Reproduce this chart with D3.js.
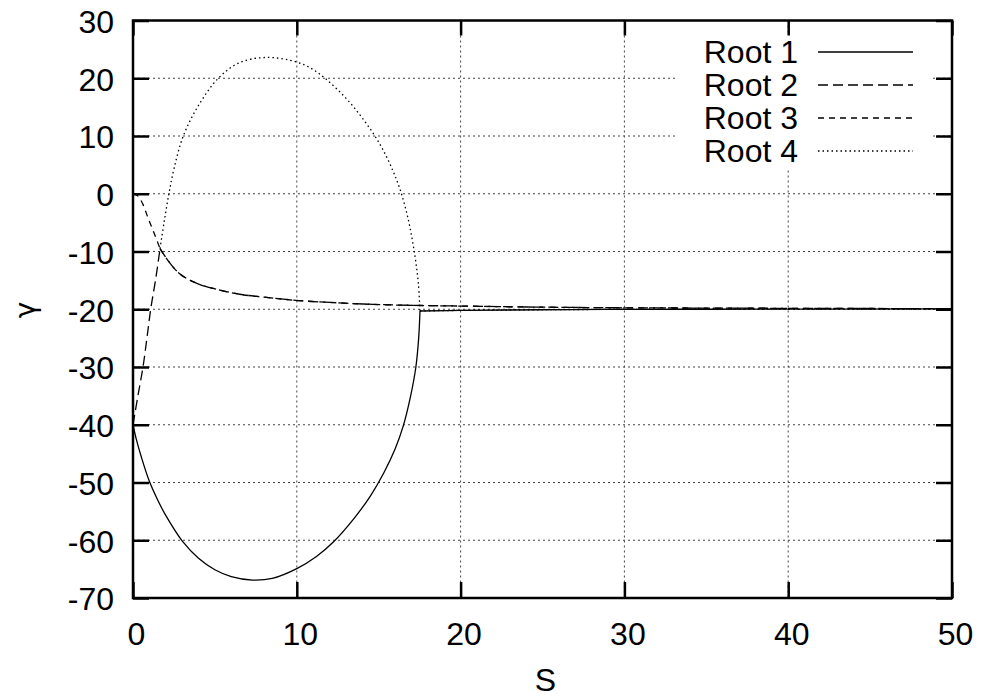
<!DOCTYPE html>
<html>
<head>
<meta charset="utf-8">
<script src="https://cdn.jsdelivr.net/npm/d3@7"></script>
<style>
  body { margin: 0; background: #fff; }
  svg { display: block; font-family: "Liberation Sans", Arial, Helvetica, sans-serif; }
</style>
</head>
<body>
<div id="chart"></div>
<script>
// tick values
var xTicks = [0, 10, 20, 30, 40, 50];
var yTicks = [-70, -60, -50, -40, -30, -20, -10, 0, 10, 20, 30];

// curve pieces (S, gamma)
var lowerS = [0, 0.2, 0.5, 1.0, 1.5, 2.0, 3.0, 4.0, 5.0, 6.0, 7.3, 8.5, 10, 11.2, 12.23, 13.5, 14.5, 15.3, 16.0, 16.5, 16.95, 17.27, 17.44, 17.52];
var lowerG = [-40, -42.5, -45.5, -49.8, -53, -55.7, -60.1, -63.1, -65.1, -66.3, -66.9, -66.6, -64.9, -62.8, -60.3, -56.2, -52.3, -48.4, -44.2, -40.2, -35, -30, -25, -20.3];

var tailS = [17.52, 20, 27, 35, 50];
var tailG = [-20.3, -20.2, -20.05, -20.0, -19.95];

var riseS = [0, 0.3, 0.61, 0.85, 1.08, 1.4, 1.65];
var riseG = [-40, -35, -30, -25, -20, -14.5, -9.5];

var fallS = [0, 0.3, 0.6, 0.92, 1.3, 1.65];
var fallG = [0, -0.4, -1.8, -4.2, -6.9, -9.5];

var flatS = [1.65, 2.2, 2.87, 3.8, 4.9, 6.5, 8, 10.1, 12.6, 15.1, 20, 27.3, 35, 50];
var flatG = [-9.5, -11.8, -13.9, -15.4, -16.4, -17.4, -17.9, -18.5, -18.9, -19.2, -19.45, -19.7, -19.8, -19.9];

var upperS = [1.65, 1.9, 2.18, 2.5, 3.07, 4.0, 5.21, 6.5, 8.16, 10, 11, 11.72, 12.5, 13.3, 14.0, 14.7, 15.3, 15.85, 16.3, 16.7, 17.0, 17.25, 17.42, 17.52];
var upperG = [-9.5, -4.9, -0.2, 4.3, 10, 15.3, 20, 22.7, 23.6, 22.8, 21.5, 20, 18, 15.6, 13.1, 10.3, 7.4, 4.1, 0.8, -3.2, -7.2, -11.5, -15.5, -20.3];

var rootNames = ["Root 1", "Root 2", "Root 3", "Root 4"];
var rootDash = [null, "10,5", "6,5", "1.5,3"];

function pts(s, g) { return s.map(function(v, i) { return [v, g[i]]; }); }

function makeChart() {

  // each root is drawn as one or more smooth pieces
  var roots = [
    [pts(lowerS, lowerG), pts(tailS, tailG)],
    [pts(riseS, riseG), pts(flatS, flatG)],
    [pts(fallS, fallG), pts(flatS, flatG)],
    [pts(upperS, upperG), pts(tailS, tailG)]
  ];

  var width = 984, height = 698;
  var m = {left: 133, right: 952, top: 20.5, bottom: 598};
  var fs = "32px";

  var svg = d3.select("#chart").append("svg")
      .attr("width", width)
      .attr("height", height);

  var x = d3.scaleLinear().domain([0, 50]).range([m.left, m.right]);
  var y = d3.scaleLinear().domain([-70, 30]).range([m.bottom, m.top]);

  // grid
  var grid = svg.append("g").attr("class", "grid")
      .attr("stroke", "#444").attr("stroke-width", 1).attr("stroke-dasharray", "2,3");
  grid.selectAll(".gx").data(xTicks.slice(1, -1)).enter().append("line")
      .attr("x1", function(d) { return x(d); }).attr("x2", function(d) { return x(d); })
      .attr("y1", m.top).attr("y2", m.bottom);
  grid.selectAll(".gy").data(yTicks.slice(1, -1)).enter().append("line")
      .attr("y1", function(d) { return y(d); }).attr("y2", function(d) { return y(d); })
      .attr("x1", m.left).attr("x2", m.right);

  // legend background covers the grid
  svg.append("rect")
      .attr("x", 677).attr("y", 35).attr("width", 256).attr("height", 133)
      .attr("fill", "#fff");

  // curves
  var line = d3.line()
      .x(function(d) { return x(d[0]); })
      .y(function(d) { return y(d[1]); })
      .curve(d3.curveCatmullRom.alpha(0.5));

  roots.forEach(function(pieces, i) {
    svg.append("g").attr("class", "root" + (i + 1))
      .selectAll("path")
        .data(pieces)
      .enter().append("path")
        .attr("d", line)
        .attr("fill", "none")
        .attr("stroke", "#000")
        .attr("stroke-width", 1.3)
        .attr("stroke-dasharray", rootDash[i]);
  });

  // axes, ticks pointing inward
  function styleAxis(g) {
    g.select(".domain").remove();
    g.selectAll(".tick line").attr("stroke", "#000").attr("stroke-width", 2.5);
    g.selectAll("text").attr("fill", "#000").style("font-size", fs)
      .style("font-family", "'Liberation Sans', Arial, Helvetica, sans-serif");
  }

  var plain = function(d) { return String(d); };

  svg.append("g")
      .attr("transform", "translate(0," + m.bottom + ")")
      .call(d3.axisBottom(x).tickValues(xTicks).tickSize(-16).tickPadding(24).tickFormat(plain))
      .call(styleAxis)
      .selectAll("text").attr("dx", 3);

  svg.append("g")
      .attr("transform", "translate(" + m.left + ",0)")
      .call(d3.axisLeft(y).tickValues(yTicks).tickSize(-16).tickPadding(19).tickFormat(plain))
      .call(styleAxis)
      .selectAll("text").attr("dy", "0.37em");

  svg.append("g")
      .attr("transform", "translate(0," + m.top + ")")
      .call(d3.axisTop(x).tickValues(xTicks).tickSize(-15).tickFormat(""))
      .call(styleAxis);

  svg.append("g")
      .attr("transform", "translate(" + m.right + ",0)")
      .call(d3.axisRight(y).tickValues(yTicks).tickSize(-16).tickFormat(""))
      .call(styleAxis);

  // border
  svg.append("rect")
      .attr("x", m.left).attr("y", m.top)
      .attr("width", m.right - m.left).attr("height", m.bottom - m.top)
      .attr("fill", "none").attr("stroke", "#000").attr("stroke-width", 2.5);

  // axis titles
  svg.append("text")
      .attr("x", (m.left + m.right) / 2 + 3)
      .attr("y", 691)
      .attr("text-anchor", "middle")
      .style("font-size", fs)
      .text("S");

  svg.append("text")
      .attr("transform", "translate(35,310) rotate(-90)")
      .attr("text-anchor", "middle")
      .style("font-family", "'DejaVu Sans', sans-serif")
      .style("font-size", "28px")
      .text("γ");

  // legend
  var legend = svg.append("g").attr("class", "legend");
  var rows = legend.selectAll("g").data(rootNames).enter().append("g")
      .attr("transform", function(d, i) { return "translate(0," + (52 + i * 33) + ")"; });
  rows.append("text")
      .attr("x", 798).attr("dy", "0.35em")
      .attr("text-anchor", "end")
      .style("font-size", fs)
      .text(function(d) { return d; });
  rows.append("line")
      .attr("x1", 818).attr("x2", 913)
      .attr("stroke", "#000").attr("stroke-width", 1.3)
      .attr("stroke-dasharray", function(d, i) { return rootDash[i]; });
}

makeChart();
</script>
</body>
</html>
